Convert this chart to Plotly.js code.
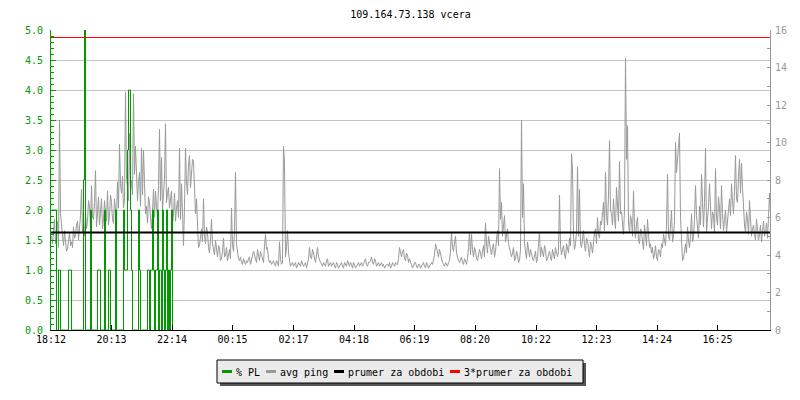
<!DOCTYPE html>
<html><head><meta charset="utf-8">
<script src="https://cdn.plot.ly/plotly-3.0.1.min.js"></script>
<style>html,body{margin:0;padding:0;background:#fff}</style>
</head><body><div id="chart" style="width:800px;height:400px"></div>
<script>
const chartTitle = '109.164.73.138 vcera';
const seriesNames = ['% PL', 'avg ping', 'prumer za obdobi', '3*prumer za obdobi'];
const seriesColors = ['#009900', '#999999', '#000000', '#ff0000'];
const tickMinutes = [0, 121, 242, 363, 485, 606, 727, 848, 970, 1091, 1212, 1333];
const tickLabels = ['18:12', '20:13', '22:14', '00:15', '02:17', '04:18', '06:19', '08:20', '10:22', '12:23', '14:24', '16:25'];
const spanMinutes = 1440;
const pingStepMin = 2;
const plStepMin = 2;

// avg ping [ms], one sample per 2-minute interval from 18:12
const avgPing = [
5.0,4.6,5.3,5.9,4.6,5.1,5.8,4.4,11.2,6.2,5.6,4.8,4.5,5.3,4.9,4.2,4.3,4.9,5.2,4.5,
4.7,4.4,5.5,4.9,5.0,5.6,5.8,4.8,5.4,6.1,7.5,5.2,5.6,5.0,6.3,5.4,5.8,6.9,6.6,5.5,
7.7,6.0,5.9,6.8,8.5,5.5,6.2,7.1,5.6,6.3,7.0,5.4,5.9,6.9,6.5,5.8,7.4,5.6,6.1,7.2,
6.8,5.9,5.7,7.0,6.4,6.0,7.9,6.5,9.9,7.8,7.3,8.2,6.5,7.0,12.7,8.1,7.6,6.9,10.5,7.4,
8.0,7.2,12.6,8.3,9.8,7.5,6.9,7.9,8.4,6.6,9.7,7.2,9.6,7.8,6.2,6.6,5.7,7.1,6.8,6.0,
5.4,6.3,7.5,6.0,7.4,6.6,6.0,7.7,10.7,6.9,9.2,6.4,7.1,8.1,11.0,6.8,7.3,7.6,6.5,6.9,
7.4,5.6,6.2,7.3,5.8,6.5,6.9,6.0,9.7,5.9,7.8,6.3,4.5,6.6,9.7,7.9,7.2,8.8,9.3,7.6,
8.6,9.1,9.0,7.8,6.2,7.0,5.0,4.4,4.5,5.1,5.4,4.7,7.0,5.0,4.6,5.5,5.2,4.4,4.1,4.8,
5.9,4.6,4.3,4.0,4.8,4.1,3.9,4.5,4.4,3.7,3.8,4.2,4.9,3.9,4.0,4.4,3.7,4.0,4.3,3.8,
6.5,4.5,4.2,5.3,8.4,4.6,4.0,3.8,3.7,3.9,3.6,3.5,3.8,3.6,3.5,3.7,3.6,3.8,3.9,3.5,
3.7,3.9,4.2,4.0,3.8,3.6,4.3,3.9,3.7,4.2,4.0,3.7,3.6,4.5,5.1,4.3,4.4,3.8,3.6,3.7,
3.5,3.6,3.7,3.5,3.4,3.7,3.6,3.4,4.7,3.8,3.5,3.6,9.8,8.9,3.9,4.4,5.3,4.1,3.6,3.4,
3.5,3.6,3.4,3.5,3.6,3.3,3.4,3.6,3.5,3.4,3.7,3.5,3.4,3.5,3.6,3.3,3.5,3.8,4.4,3.9,
3.8,4.3,4.1,3.7,3.6,4.0,4.4,3.9,3.7,3.6,3.5,3.4,3.6,3.5,3.4,3.7,3.8,3.4,3.5,3.6,
3.4,3.5,3.6,3.4,3.3,3.6,3.5,3.3,3.4,3.5,3.6,3.4,3.3,3.6,3.5,3.4,3.7,3.5,3.4,3.6,
3.5,3.3,3.6,3.5,3.3,3.4,3.5,3.6,3.4,3.5,3.6,3.4,3.5,3.7,3.8,3.5,3.4,3.6,3.6,3.7,
3.9,3.6,3.5,3.8,3.7,3.4,3.5,3.6,3.4,3.5,3.6,3.4,3.5,3.3,3.4,3.5,3.5,3.4,3.6,3.3,
3.4,3.6,3.5,3.4,3.6,3.5,3.5,3.8,4.4,4.1,3.9,4.2,4.3,3.8,3.7,4.1,4.0,3.6,3.8,3.6,
3.5,3.3,3.4,3.6,3.6,3.4,3.3,3.5,3.5,3.3,3.4,3.5,3.6,3.4,3.3,3.6,3.5,3.3,3.4,3.5,
3.6,3.5,3.7,4.0,4.6,4.3,4.1,3.9,4.3,4.0,3.7,3.6,3.5,3.4,3.6,3.5,3.4,3.6,3.7,4.2,
5.2,4.4,4.2,4.7,5.0,4.1,3.8,3.7,3.6,3.8,3.9,3.6,3.5,3.8,3.7,3.5,3.8,4.4,5.2,4.0,
5.1,4.3,3.9,4.4,4.2,3.8,3.7,4.0,4.3,4.1,3.8,4.2,4.5,3.9,5.7,4.6,4.1,5.0,4.7,4.2,
4.0,4.4,4.6,3.9,4.2,4.8,5.3,4.5,8.6,5.9,6.8,5.0,5.6,6.1,4.7,5.1,5.4,4.6,4.3,4.0,
3.9,4.1,4.4,3.7,3.8,4.2,4.0,3.6,3.7,4.3,11.2,6.0,7.8,4.6,4.2,3.8,4.7,4.1,3.9,4.3,
4.0,3.8,3.7,4.1,4.2,3.6,3.8,4.6,5.2,3.9,4.4,4.1,3.9,4.5,4.3,3.7,3.8,4.0,4.2,3.9,
3.7,4.3,4.1,3.8,4.4,4.0,3.9,4.2,7.2,4.5,4.0,4.3,4.5,4.0,3.8,4.6,4.3,4.1,4.9,4.5,
9.4,8.6,5.0,4.3,4.6,5.2,8.7,5.0,7.5,4.6,4.4,4.9,5.3,4.5,4.2,4.9,4.8,4.3,3.9,4.7,
4.5,4.1,4.8,5.2,5.4,4.6,6.0,5.1,4.9,5.8,5.6,6.5,6.8,5.3,8.4,6.1,5.6,7.2,10.1,6.4,
6.2,5.6,7.0,6.0,5.4,7.6,6.9,5.8,9.0,6.2,6.3,5.5,5.1,6.4,14.5,9.1,10.9,5.7,5.2,6.1,
5.8,5.0,7.4,5.5,4.9,5.7,6.0,4.8,4.6,5.4,5.3,4.7,4.3,5.6,5.0,4.5,5.9,4.8,4.4,4.6,
4.1,4.4,3.8,4.0,4.5,3.9,3.7,4.3,4.2,3.9,4.6,4.4,5.1,4.8,4.5,5.6,8.3,5.0,4.8,5.6,
6.4,4.7,5.0,5.8,10.0,8.4,9.2,9.8,10.5,6.0,4.2,3.7,3.8,4.3,4.6,4.1,5.5,4.8,4.4,5.0,
6.2,4.7,5.0,5.9,7.7,6.1,5.3,4.9,6.6,5.6,8.3,6.2,5.5,6.8,9.7,5.2,5.8,6.6,7.8,5.9,
5.4,6.3,6.1,5.2,8.6,6.0,5.6,7.1,6.5,5.4,7.7,6.2,5.3,5.9,6.4,5.2,5.8,6.7,7.0,6.1,
7.8,6.9,6.2,7.4,9.3,7.0,6.8,8.2,9.1,7.3,8.9,7.6,6.5,5.6,5.2,6.3,5.9,5.1,6.9,5.8,
5.0,5.4,5.6,5.1,4.8,5.9,5.5,4.8,5.1,5.6,4.7,5.3,5.8,5.0,5.2,5.7,4.9,6.0,7.3,6.2
];

// packet loss [%], one sample per 2-minute interval from 18:12
const packetLoss = [
2,2,2,2,2,0,0,1,1,0,
0,0,0,0,0,0,0,1,1,1,
0,0,0,0,0,0,0,0,0,0,
0,0,2.5,100,0,0,0,0,0,2,
0,0,0,0,0,0,1,1,1,0,
0,0,0,2,0,0,0,1,1,0,
0,0,0,0,2,0,0,0,0,0,
0,0,2,1,1,1,3,4,4,2,
1,0,0,0,0,0,0,2,1,0,
0,0,0,0,0,0,1,1,0,1,
1,2,1,0,1,1,2,0,1,1,
0,2,1,0,1,2,0,1,0,1,
2,0
];

const periodMean = 5.2;
const periodMeanTimes3 = 15.6;

// each sample drawn at the centre of its 2-minute interval
const pingX = avgPing.map((_, i) => (i + 0.5) * pingStepMin);
const plX = packetLoss.map((_, i) => (i + 0.5) * plStepMin);

const font = 'DejaVu Sans Mono, monospace';

const traces = [
  {x: pingX, y: avgPing, yaxis: 'y', type: 'scatter', mode: 'lines', name: seriesNames[1],
   line: {color: seriesColors[1], width: 1}, hoverinfo: 'skip'},
  {x: plX, y: packetLoss, yaxis: 'y2', type: 'scatter', mode: 'lines', name: seriesNames[0],
   line: {color: seriesColors[0], width: 1, shape: 'hv'}, hoverinfo: 'skip'},
  {x: [0, spanMinutes], y: [periodMean, periodMean], yaxis: 'y3', type: 'scatter', mode: 'lines', name: seriesNames[2],
   line: {color: seriesColors[2], width: 2}, hoverinfo: 'skip'},
  {x: [0, spanMinutes], y: [periodMeanTimes3, periodMeanTimes3], yaxis: 'y3', type: 'scatter', mode: 'lines', name: seriesNames[3],
   line: {color: seriesColors[3], width: 1}, hoverinfo: 'skip'}
];

// manual legend (box with shadow), positioned in pixels of the 800x400 figure
const PL = 51, PR = 770, PT = 30, PB = 330;
const px2x = px => (px - PL) / (PR - PL);
const px2y = py => (PB - py) / (PB - PT);
const legendLeft = 217, legendTop = 360, legendH = 23, charW = 6, symW = 10;
const midY = legendTop + legendH / 2;
const shapes = [];
const annotations = [];
let cursor = legendLeft + 5;
const items = [];
seriesNames.forEach((name, i) => {
  items.push({type: 'line', xref: 'paper', yref: 'paper',
    x0: px2x(cursor), x1: px2x(cursor + symW), y0: px2y(midY), y1: px2y(midY),
    line: {color: seriesColors[i], width: 3}});
  annotations.push({xref: 'paper', yref: 'paper', x: px2x(cursor + symW + 2), y: px2y(midY + 0.5),
    xanchor: 'left', yanchor: 'middle', text: name, showarrow: false,
    font: {family: font, size: 10, color: '#000'}});
  cursor += symW + 4 + name.length * charW + 6;
});
const legendRight = cursor + 5;
shapes.push({type: 'rect', xref: 'paper', yref: 'paper',
  x0: px2x(legendLeft + 3), x1: px2x(legendRight + 3), y0: px2y(legendTop + 3), y1: px2y(legendTop + legendH + 3),
  fillcolor: '#555555', line: {width: 0}});
shapes.push({type: 'rect', xref: 'paper', yref: 'paper',
  x0: px2x(legendLeft), x1: px2x(legendRight), y0: px2y(legendTop), y1: px2y(legendTop + legendH),
  fillcolor: '#ebebeb', line: {color: '#000', width: 1}});
items.forEach(s => shapes.push(s));

const layout = {
  width: 800, height: 400,
  margin: {l: PL, r: 800 - PR, t: PT, b: 400 - PB, pad: 0},
  paper_bgcolor: '#ffffff', plot_bgcolor: '#ffffff',
  showlegend: false,
  font: {family: font, size: 10, color: '#000'},
  title: {text: chartTitle, x: 0.5, xref: 'paper', xanchor: 'center', y: 1 - 14 / 400, yref: 'container', yanchor: 'middle',
    font: {family: font, size: 10, color: '#000'}},
  xaxis: {range: [0, 1438], tickmode: 'array', tickvals: tickMinutes, ticktext: tickLabels,
    ticks: 'inside', ticklen: 5, tickwidth: 1, tickcolor: '#000', showline: true, linecolor: '#000', linewidth: 1,
    showgrid: false, zeroline: false, tickfont: {family: font, size: 10, color: '#000'}},
  yaxis: {range: [0, 16], side: 'right', dtick: 2, tick0: 0, ticks: 'inside', ticklen: 3, tickcolor: '#999',
    showline: true, linecolor: '#999', linewidth: 1, showgrid: false, zeroline: false, ticklabelstandoff: 2,
    tickfont: {family: font, size: 10, color: '#999'},
    minor: {dtick: 1, tick0: 0, ticks: 'inside', ticklen: 3, tickcolor: '#999', showgrid: false}},
  yaxis2: {range: [0, 5], overlaying: 'y', side: 'left', dtick: 0.5, tick0: 0, tickformat: '.1f',
    ticks: 'inside', ticklen: 5, tickcolor: '#009900', showline: true, linecolor: '#009900', linewidth: 1,
    showgrid: true, gridcolor: '#c4c4c4', gridwidth: 1, zeroline: false, ticklabelstandoff: 5,
    tickfont: {family: font, size: 10, color: '#009900'},
    minor: {dtick: 0.1, tick0: 0, ticks: 'inside', ticklen: 3, tickcolor: '#009900', showgrid: false}},
  yaxis3: {range: [0, 16], overlaying: 'y', visible: false},
  shapes: shapes,
  annotations: annotations
};

Plotly.newPlot('chart', traces, layout, {staticPlot: true, displayModeBar: false});
</script>
</body></html>
